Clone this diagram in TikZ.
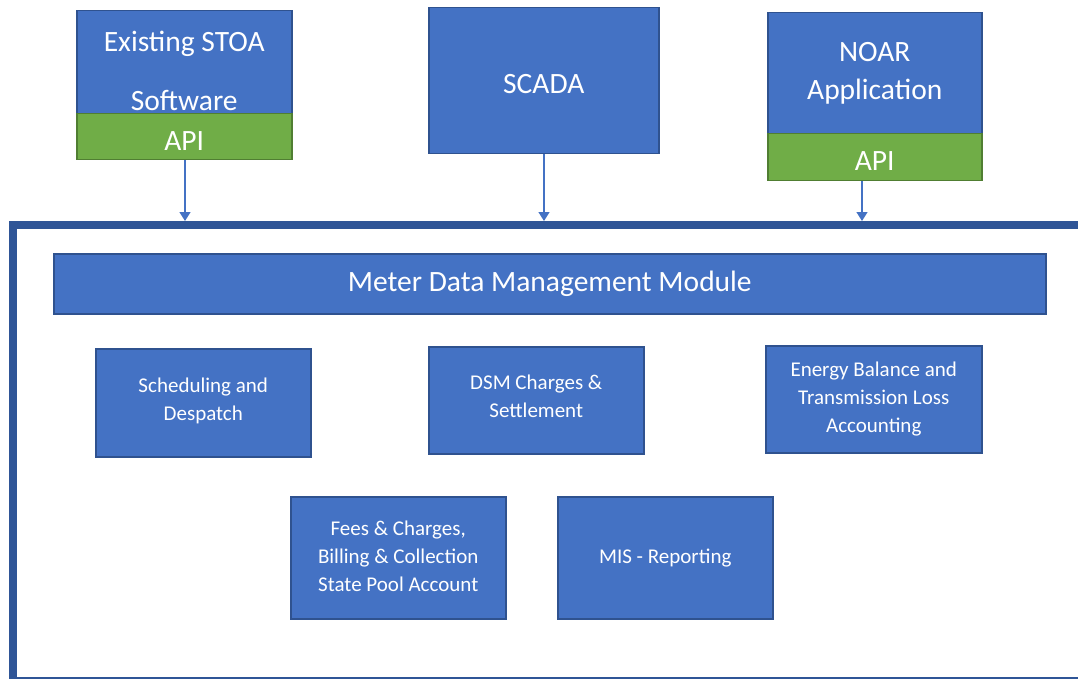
\documentclass[tikz,border=0pt]{standalone}
\usepackage{fontspec}
\setmainfont{Carlito}
\usetikzlibrary{arrows.meta}
\definecolor{boxblue}{HTML}{4472C4}
\definecolor{boxedge}{HTML}{2F528F}
\definecolor{apigreen}{HTML}{70AD47}
\definecolor{apiedge}{HTML}{507E32}
\definecolor{framecol}{HTML}{2F5597}
\tikzset{
  bluebox/.style={draw=boxedge, line width=1.5pt, fill=boxblue, text=white, align=center, inner sep=0pt},
  apibox/.style={draw=apiedge, line width=1.5pt, fill=apigreen, text=white, align=center, inner sep=0pt},
  caption/.style={text=white, align=center, inner sep=0pt},
  feed/.style={draw=boxblue, line width=1.4pt, -{Triangle[length=9pt,width=11pt]}},
  bigtext/.style={font=\fontsize{29.5}{38}\selectfont},
  smalltext/.style={font=\fontsize{21}{28}\selectfont},
}
\begin{document}
\begin{tikzpicture}[x=1pt,y=-1pt]
\useasboundingbox (0,0) rectangle (1078,679);
\begin{scope}
\clip (0,0) rectangle (1078,679);
% enclosing frame, open towards the right and bottom edges
\draw[framecol, line width=8pt] (1095,225) -- (13,225) -- (13,681) -- (1095,681);
\end{scope}

% source systems
\node[bluebox, minimum width=215pt, minimum height=103pt, anchor=north west] (stoa) at (76,10) {};
\node[caption, font=\fontsize{29.5}{59}\selectfont] (stoa-t) at ([yshift=-8.5pt]stoa.center) {Existing STOA\\Software};
\node[apibox, minimum width=215pt, minimum height=46pt, anchor=north west] (stoaapi) at (76,113) {};
\node[caption, bigtext] (stoaapi-t) at ([yshift=-4pt]stoaapi.center) {API};

\node[bluebox, minimum width=230pt, minimum height=146pt, anchor=north west] (scada) at (428,7) {};
\node[caption, bigtext] (scada-t) at ([yshift=-3pt]scada.center) {SCADA};

\node[bluebox, minimum width=214pt, minimum height=121pt, anchor=north west] (noar) at (767,12) {};
\node[caption, bigtext] (noar-t) at (noar.center) {NOAR\\Application};
\node[apibox, minimum width=214pt, minimum height=47pt, anchor=north west] (noarapi) at (767,133) {};
\node[caption, bigtext] (noarapi-t) at ([yshift=-4pt]noarapi.center) {API};

% feed points on the frame
\coordinate (inA) at (185,221);
\coordinate (inB) at (544,221);
\coordinate (inC) at (862,221);
\draw[feed] (stoaapi.south -| inA) -- (inA);
\draw[feed] (scada.south -| inB) -- (inB);
\draw[feed] (noarapi.south -| inC) -- (inC);

% modules
\node[bluebox, minimum width=992pt, minimum height=60pt, anchor=north west,
      font=\fontsize{29.5}{34}\selectfont] (mdm) at (53,253) {Meter Data Management Module};

\node[bluebox, minimum width=215pt, minimum height=108pt, anchor=north west] (sched) at (95,348) {};
\node[caption, smalltext] (sched-t) at ([yshift=2pt]sched.center) {Scheduling and\\Despatch};
\node[bluebox, minimum width=215pt, minimum height=107pt, anchor=north west] (dsm) at (428,346) {};
\node[caption, smalltext] (dsm-t) at ([yshift=3.5pt]dsm.center) {DSM Charges \&\\Settlement};
\node[bluebox, smalltext, minimum width=216pt, minimum height=107pt, anchor=north west] (energy) at (765,345) {Energy Balance and\\Transmission Loss\\Accounting};
\node[bluebox, minimum width=215pt, minimum height=122pt, anchor=north west] (fees) at (290,496) {};
\node[caption, smalltext] (fees-t) at ([yshift=1.5pt]fees.center) {Fees \& Charges,\\Billing \& Collection\\State Pool Account};
\node[bluebox, smalltext, minimum width=215pt, minimum height=122pt, anchor=north west] (mis) at (557,496) {MIS - Reporting};
\end{tikzpicture}
\end{document}
